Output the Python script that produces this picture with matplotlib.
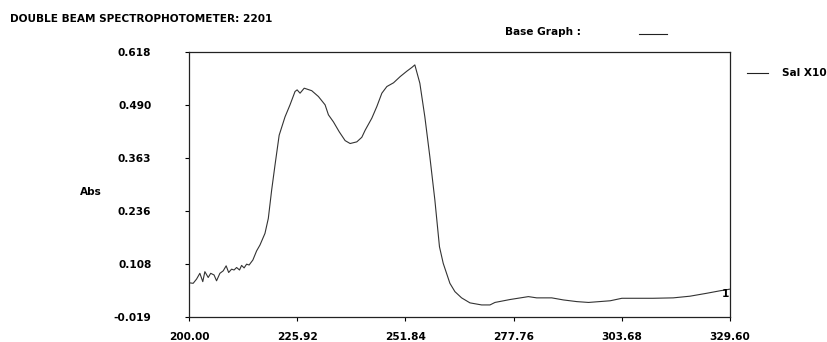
import matplotlib
matplotlib.use("Agg")
import matplotlib.pyplot as plt

# Spectre (longueur d'onde en nm, absorbance)
WAVELENGTH = [
    200.2, 201.0, 201.8, 202.6, 203.3, 203.8, 204.6, 205.2, 206.0, 206.6,
    207.4, 208.2, 208.9, 209.5, 210.2, 210.8, 211.4, 212.1, 212.6, 213.2,
    213.8, 214.4, 215.3, 216.2, 217.0, 218.2, 219.0, 219.8, 220.6, 221.6,
    223.0, 224.2, 225.4, 225.9, 226.6, 227.6, 229.4, 231.0, 232.6, 233.4,
    234.6, 236.0, 237.4, 238.6, 240.2, 241.4, 242.2, 243.8, 245.0, 246.2,
    247.4, 249.0, 250.6, 252.2, 253.4, 254.1, 255.3, 256.5, 257.7, 258.9,
    260.0, 260.9, 262.5, 263.7, 265.3, 267.3, 270.1, 272.1, 273.3, 276.9,
    281.3, 283.3, 286.9, 289.7, 292.9, 295.7, 300.9, 303.7, 306.5, 311.2,
    316.0, 320.0, 324.0, 327.2, 329.6,
]
ABSORBANCE = [
    0.063, 0.062, 0.072, 0.086, 0.066, 0.090, 0.076, 0.086, 0.082, 0.068,
    0.086, 0.092, 0.104, 0.088, 0.096, 0.094, 0.100, 0.094, 0.105, 0.099,
    0.108, 0.106, 0.118, 0.140, 0.154, 0.182, 0.218, 0.286, 0.346, 0.418,
    0.462, 0.491, 0.523, 0.527, 0.519, 0.531, 0.525, 0.511, 0.491, 0.467,
    0.450, 0.426, 0.405, 0.398, 0.402, 0.413, 0.430, 0.459, 0.487, 0.519,
    0.535, 0.544, 0.559, 0.572, 0.581, 0.587, 0.543, 0.462, 0.366, 0.262,
    0.150, 0.110, 0.062, 0.042, 0.027, 0.015, 0.010, 0.010, 0.016, 0.023,
    0.030, 0.027, 0.027, 0.022, 0.018, 0.016, 0.020, 0.026, 0.026, 0.026,
    0.027, 0.031, 0.038, 0.044, 0.048,
]

X_TICKS = [200.00, 225.92, 251.84, 277.76, 303.68, 329.60]
Y_TICKS = [-0.019, 0.108, 0.236, 0.363, 0.490, 0.618]

FONT = dict(family="DejaVu Sans", fontweight="bold", fontsize=7.6)
INK = "#222222"

fig = plt.figure(figsize=(8.27, 3.42), dpi=100)
ax = fig.add_axes([189 / 827, 1 - 317 / 342, (730 - 189) / 827, (317 - 52) / 342])

ax.plot(WAVELENGTH, ABSORBANCE, color="#333333", lw=0.8)
ax.set_xlim(X_TICKS[0], X_TICKS[-1])
ax.set_ylim(Y_TICKS[0], Y_TICKS[-1])

ax.set_xticks(X_TICKS)
ax.set_xticklabels([f"{v:.2f}" for v in X_TICKS], **FONT)
ax.set_yticks(Y_TICKS)
ax.set_yticklabels([f"{v:.3f}" for v in Y_TICKS], **FONT)
ax.tick_params(axis="x", direction="out", length=3, width=0.8, pad=8)
ax.tick_params(axis="y", direction="out", length=3, width=0.8, pad=24)
for s in ax.spines.values():
    s.set_linewidth(0.9)
    s.set_color(INK)

ax.set_ylabel("Abs", rotation=0, ha="center", va="center", **FONT)
ax.yaxis.set_label_coords(-0.181, 0.472)

# petit repère du curseur en bout de courbe
ax.text(328.6, 0.036, "1", ha="center", va="center", **FONT)

fig.text(10 / 827, 1 - 19 / 342, "DOUBLE BEAM SPECTROPHOTOMETER: 2201",
         ha="left", va="center", **FONT)
fig.text(505 / 827, 1 - 32 / 342, "Base Graph :", ha="left", va="center", **FONT)
fig.add_artist(plt.Line2D([639 / 827, 667 / 827], [1 - 34 / 342, 1 - 34 / 342],
                          color=INK, lw=0.8))

# légende
fig.add_artist(plt.Line2D([747 / 827, 768 / 827], [1 - 73 / 342, 1 - 73 / 342],
                          color=INK, lw=0.8))
fig.text(782 / 827, 1 - 73 / 342, "Sal X10", ha="left", va="center", **FONT)

fig.savefig("out.png", dpi=100)
